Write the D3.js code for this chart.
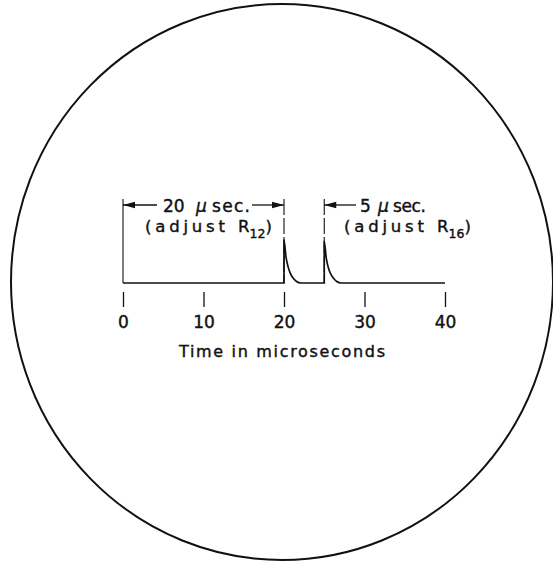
<!DOCTYPE html>
<html>
<head>
<meta charset="utf-8">
<script src="https://cdn.jsdelivr.net/npm/d3@7"></script>
<style>
  body { margin: 0; background: #fff; }
  svg text { font-family: "DejaVu Sans", "Liberation Sans", sans-serif; fill: #111; stroke: #111; stroke-width: 0.4px; }
</style>
</head>
<body>
<div id="chart"></div>
<script>
// trace (time in µs, relative amplitude)
const traceTimes  = [0, 20, 20, 20.25, 20.5, 20.8, 21.2, 21.6, 22.1, 25, 25, 25.25, 25.5, 25.8, 26.2, 26.6, 27.1, 40];
const traceValues = [0, 0, 1.0, 0.6, 0.38, 0.22, 0.1, 0.03, 0, 0, 0.96, 0.58, 0.36, 0.21, 0.1, 0.03, 0, 0];
const tickValues = [0, 10, 20, 30, 40];
const markerTimes = [0, 20, 25];
const intervalLabels = ["20", "5"];
const resistorSubs = ["12", "16"];

const width = 553, height = 561;

const svg = d3.select("#chart").append("svg")
  .attr("width", width)
  .attr("height", height);

const x = d3.scaleLinear().domain([0, 40]).range([123, 445]);
const y = d3.scaleLinear().domain([0, 1]).range([283, 240]);

// scope face
svg.append("ellipse")
  .attr("cx", 282).attr("cy", 282)
  .attr("rx", 271).attr("ry", 278)
  .attr("fill", "none")
  .attr("stroke", "#111")
  .attr("stroke-width", 2);

// trace
const line = d3.line()
  .x((d, i) => x(traceTimes[i]))
  .y(d => y(d))
  .curve(d3.curveMonotoneX);

svg.append("path")
  .datum(traceValues)
  .attr("d", line)
  .attr("fill", "none")
  .attr("stroke", "#111")
  .attr("stroke-width", 1.7);

// vertical reference markers
svg.selectAll(".marker")
  .data(markerTimes)
  .join("line")
  .attr("class", "marker")
  .attr("x1", d => x(d)).attr("x2", d => x(d))
  .attr("y1", 199).attr("y2", 283)
  .attr("stroke", "#111")
  .attr("stroke-width", 1.1)
  .attr("stroke-dasharray", d => d === 0 ? null : "16,3");

// axis ticks + labels
const axis = d3.axisBottom(x)
  .tickValues(tickValues)
  .tickSize(15)
  .tickPadding(9)
  .tickFormat(d3.format("d"));

const gAxis = svg.append("g")
  .attr("transform", "translate(0,292)")
  .call(axis);
gAxis.select(".domain").remove();
gAxis.selectAll(".tick line").attr("stroke", "#111").attr("stroke-width", 1.3);
gAxis.selectAll(".tick text")
  .attr("font-size", 17)
  .attr("font-family", "DejaVu Sans, sans-serif")
  .attr("fill", "#111");

svg.append("text")
  .attr("x", (x(0) + x(40)) / 2 - 2)
  .attr("y", 357)
  .attr("text-anchor", "middle")
  .attr("font-size", 16)
  .attr("textLength", 206)
  .attr("lengthAdjust", "spacing")
  .text("Time in microseconds");

// dimension arrows
function arrowHead(xTip, yy, dir) {
  const len = 12, hw = 3.2;
  svg.append("path")
    .attr("d", `M${xTip},${yy} L${xTip - dir * len},${yy - hw} L${xTip - dir * len},${yy + hw} Z`)
    .attr("fill", "#111");
}
function hLine(x1, x2, yy) {
  svg.append("line").attr("x1", x1).attr("x2", x2).attr("y1", yy).attr("y2", yy)
    .attr("stroke", "#111").attr("stroke-width", 1.3);
}
const arrowY = 205;

// 20 µsec span (0 -> 20)
hLine(x(0), 157, arrowY);
hLine(252, x(20), arrowY);
arrowHead(x(0), arrowY, -1);
arrowHead(x(20), arrowY, 1);

// 5 µsec span (starts at 25)
hLine(x(25), 356, arrowY);
arrowHead(x(25), arrowY, -1);

function spanLabel(xNum, xMu, xSec, secLen, label) {
  svg.append("text").attr("x", xNum).attr("y", 212).attr("font-size", 17).text(label);
  svg.append("text").attr("x", xMu).attr("y", 212).attr("font-size", 17)
    .attr("font-style", "italic").text("\u03bc");
  svg.append("text").attr("x", xSec).attr("y", 212).attr("font-size", 17)
    .attr("textLength", secLen).attr("lengthAdjust", "spacing").text("sec.");
}
function noteLabel(x0, sub) {
  svg.append("text").attr("x", x0).attr("y", 232).attr("font-size", 16.5)
    .attr("textLength", 80).attr("lengthAdjust", "spacing").text("(adjust");
  const t = svg.append("text").attr("x", x0 + 93).attr("y", 232).attr("font-size", 16.5);
  t.append("tspan").text("R");
  t.append("tspan").attr("font-size", 12.5).attr("dy", 6).text(sub);
  t.append("tspan").attr("dy", -6).text(")");
}

spanLabel(163, 196, 212, 38, intervalLabels[0]);
noteLabel(145, resistorSubs[0]);
spanLabel(360, 378, 393, 33, intervalLabels[1]);
noteLabel(344, resistorSubs[1]);
</script>
</body>
</html>
